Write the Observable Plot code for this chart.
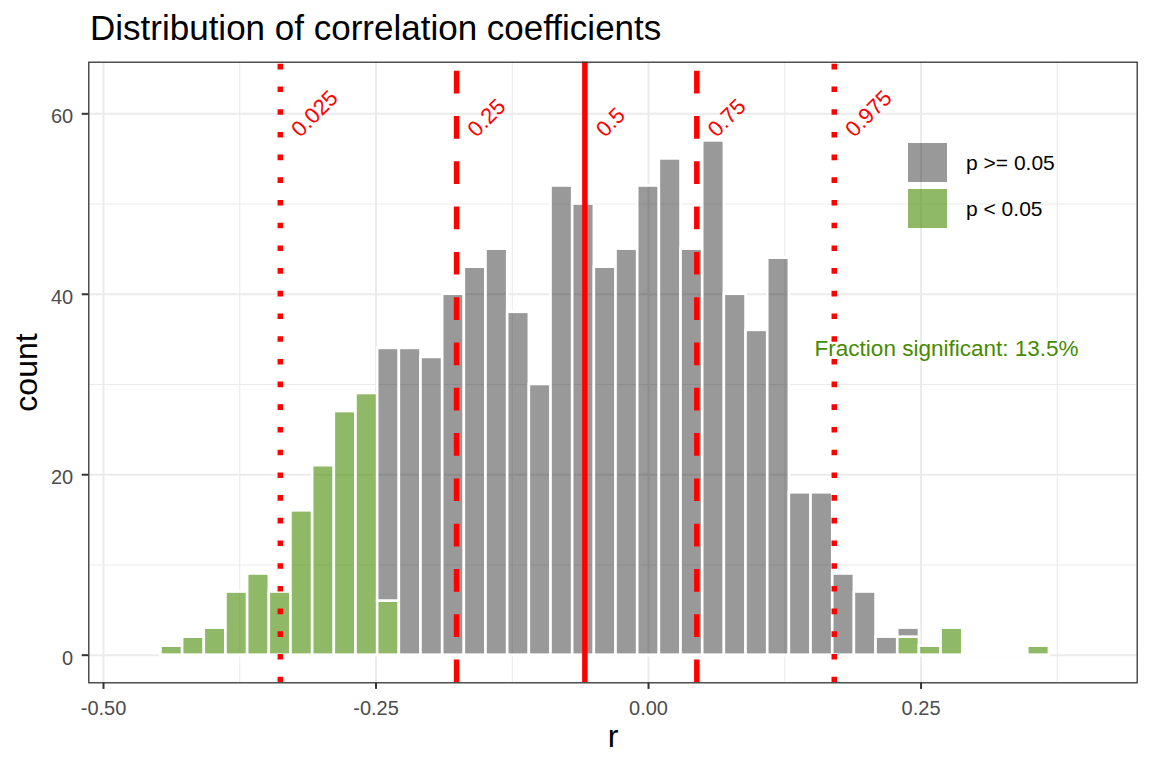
<!DOCTYPE html>
<html>
<head>
<meta charset="utf-8">
<script src="https://cdn.jsdelivr.net/npm/d3@7"></script>
<script src="https://cdn.jsdelivr.net/npm/@observablehq/plot@0.6"></script>
<style>
  body { margin: 0; background: white; }
  #wrap { position: relative; width: 1152px; height: 768px; font-family: "Liberation Sans", Arial, sans-serif; }
  #title { position: absolute; left: 90px; top: 10px; font-size: 35px; line-height: 35px; color: black; white-space: nowrap; }
  .key { position: absolute; left: 908px; width: 39px; height: 39px; }
  .klab { position: absolute; left: 966px; font-size: 21px; line-height: 21px; color: black; white-space: nowrap; }
  #chart { position: absolute; left: 0; top: 0; }
</style>
</head>
<body>
<div id="wrap">
  <div id="chart"></div>
  <div id="title">Distribution of correlation coefficients</div>
  <div class="key" style="top:143px; background: rgba(0,0,0,0.4);"></div>
  <div class="klab" style="top:151.5px;">p &gt;= 0.05</div>
  <div class="key" style="top:189px; background: rgba(69,139,0,0.6);"></div>
  <div class="klab" style="top:197.5px;">p &lt; 0.05</div>
</div>
<script>
// ---- data ----
const binWidth = 0.01988;          // histogram bin width (r units)
const firstBinIndex = -22;         // bins are centred on multiples of binWidth
const sigCounts = [1, 2, 3, 7, 9, 7, 16, 21, 27, 29, 6,
  0, 0, 0, 0, 0, 0, 0, 0, 0, 0, 0, 0, 0, 0, 0, 0, 0, 0, 0, 0, 0, 0, 0,
  2, 1, 3, 0, 0, 0, 1];
const nonsigCounts = [0, 0, 0, 0, 0, 0, 0, 0, 0, 0, 28,
  34, 33, 40, 43, 45, 38, 30, 52, 50, 43, 45, 52, 55, 45, 57, 40, 36, 44, 18, 18, 9, 7, 2,
  1, 0, 0, 0, 0, 0, 0];
const quantileProbs = ["0.025", "0.25", "0.5", "0.75", "0.975"];
const quantileValues = [-0.3378, -0.1761, -0.0584, 0.0443, 0.1704];
const quantileStyles = ["dotted", "dashed", "solid", "dashed", "dotted"];
const quantileLabelY = 57.3;
const fractionLabel = "Fraction significant: 13.5%";
const fractionX = 0.2734;
const fractionY = 33.2;
const xTicks = [-0.5, -0.25, 0, 0.25];
const xMinor = [-0.375, -0.125, 0.125, 0.375];
const yTicks = [0, 20, 40, 60];
const yMinor = [10, 30, 50];
const xDomain = [-0.5135, 0.4483];
const yDomain = [-3.06, 65.72];

// ---- derived tables ----
const bins = sigCounts.map((s, i) => {
  const c = (i + firstBinIndex) * binWidth;
  return {x1: c - binWidth / 2, x2: c + binWidth / 2, sig: s, non: nonsigCounts[i]};
});
const rects = [];
for (const b of bins) {
  if (b.sig > 0) rects.push({x1: b.x1, x2: b.x2, y1: 0, y2: b.sig, grp: "sig"});
  if (b.non > 0) rects.push({x1: b.x1, x2: b.x2, y1: b.sig, y2: b.sig + b.non, grp: "non"});
}
const binLo = bins[0].x1, binHi = bins[bins.length - 1].x2;
const quants = quantileValues.map((v, i) => ({value: v, label: quantileProbs[i], style: quantileStyles[i]}));

const red = "#ff0000";
const lw = 5.5;

const chart = Plot.plot({
  width: 1152,
  height: 768,
  marginTop: 61.7,
  marginBottom: 85.7,
  marginLeft: 88.3,
  marginRight: 15.3,
  style: {fontFamily: "Liberation Sans, Arial, sans-serif", fontSize: "20px", background: "white", overflow: "visible"},
  x: {domain: xDomain},
  y: {domain: yDomain},
  marks: [
    Plot.ruleX(xMinor, {stroke: "#ebebeb", strokeWidth: 1.1}),
    Plot.ruleY(yMinor, {stroke: "#ebebeb", strokeWidth: 1.1}),
    Plot.ruleX(xTicks, {stroke: "#ebebeb", strokeWidth: 2}),
    Plot.ruleY(yTicks, {stroke: "#ebebeb", strokeWidth: 2}),
    Plot.ruleY([0], {x1: () => binLo, x2: () => binHi, stroke: "white", strokeWidth: 2.6}),
    Plot.rect(rects, {
      x1: "x1", x2: "x2", y1: "y1", y2: "y2",
      fill: d => d.grp === "sig" ? "#458B00" : "#000000",
      fillOpacity: d => d.grp === "sig" ? 0.6 : 0.4,
      stroke: "white", strokeWidth: 2.6
    }),
    Plot.ruleX(quants.filter(d => d.style === "solid"), {x: "value", y1: () => yDomain[0], y2: () => yDomain[1], stroke: red, strokeWidth: lw}),
    Plot.ruleX(quants.filter(d => d.style === "dashed"), {x: "value", y1: () => yDomain[0], y2: () => yDomain[1], stroke: red, strokeWidth: lw, strokeDasharray: "22.7,22.6"}),
    Plot.ruleX(quants.filter(d => d.style === "dotted"), {x: "value", y1: () => yDomain[0], y2: () => yDomain[1], stroke: red, strokeWidth: lw, strokeDasharray: "5.6,17.1"}),
    Plot.text(quants, {x: "value", y: () => quantileLabelY, text: "label", rotate: -45, dx: 20, textAnchor: "start", lineAnchor: "bottom", fill: red, fontSize: 22}),
    Plot.text([{x: fractionX, y: fractionY, t: fractionLabel}], {x: "x", y: "y", text: "t", textAnchor: "middle", lineAnchor: "bottom", fill: "#458B00", fontSize: 22.5}),
    Plot.frame({stroke: "#333333", strokeWidth: 1.3}),
    Plot.axisX(xTicks, {tickSize: 6.6, tickPadding: 11, stroke: "#333333", strokeWidth: 2, color: "#4d4d4d", tickFormat: d => d.toFixed(2), label: null}),
    Plot.axisY(yTicks, {tickSize: 6.6, stroke: "#333333", strokeWidth: 2, tickFormat: () => "", label: null}),
    Plot.text(yTicks, {y: d => d, frameAnchor: "left", dx: -15.6, dy: 3, textAnchor: "end", fill: "#4d4d4d", text: d => String(d)}),
    Plot.text(["count"], {frameAnchor: "left", dx: -51.6, rotate: -90, textAnchor: "middle", lineAnchor: "bottom", fontSize: 32, fill: "black"}),
    Plot.text(["r"], {frameAnchor: "bottom", dy: 64.4, textAnchor: "middle", lineAnchor: "bottom", fontSize: 32, fill: "black"})
  ]
});
document.getElementById("chart").appendChild(chart);
</script>
</body>
</html>
